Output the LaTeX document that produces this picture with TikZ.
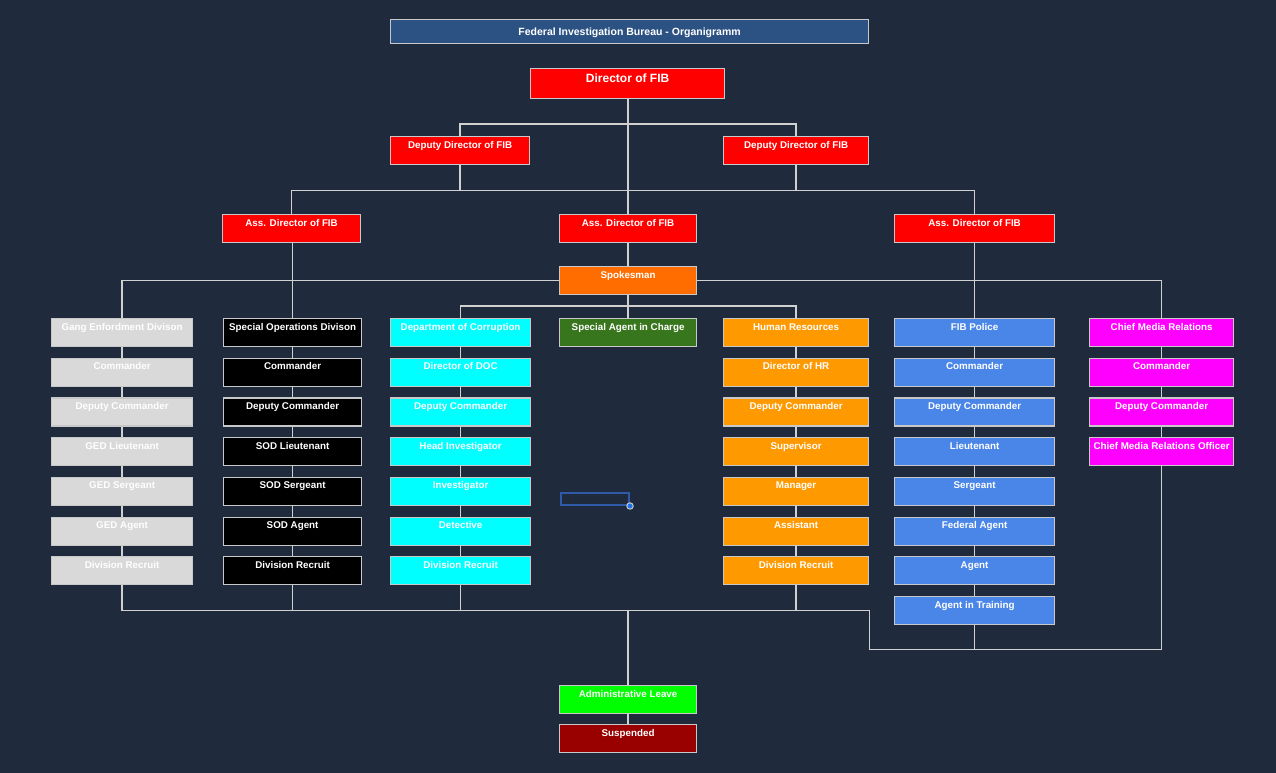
\documentclass[tikz,border=0pt]{standalone}
\usepackage{fontspec}
\setmainfont{Liberation Sans}
\usetikzlibrary{positioning}

\definecolor{bgnavy}{HTML}{1F2A3C}
\definecolor{titleblue}{HTML}{2C5283}
\definecolor{edgegrey}{HTML}{C8C8C8}
\definecolor{wiregrey}{HTML}{D0D0D0}
\definecolor{fibred}{HTML}{FF0000}
\definecolor{spkorange}{HTML}{FF6D01}
\definecolor{sacgreen}{HTML}{38761D}
\definecolor{hrorange}{HTML}{FF9900}
\definecolor{polblue}{HTML}{4A86E8}
\definecolor{cmrpink}{HTML}{FF00FF}
\definecolor{doccyan}{HTML}{00FFFF}
\definecolor{gedgrey}{HTML}{D9D9D9}
\definecolor{admgreen}{HTML}{00FF00}
\definecolor{susred}{HTML}{990000}
\definecolor{selblue}{HTML}{2F5AA8}
\definecolor{handleblue}{HTML}{1A73E8}

\tikzset{
  rank/.style={draw=edgegrey, line width=1.2pt, text=white, anchor=north west,
    font=\bfseries\fontsize{9.8}{11}\selectfont, inner xsep=1pt, inner ysep=0pt,
    minimum height=28pt, text height=11.5pt, text depth=16.5pt},
  wire/.style={draw=wiregrey, line width=1.3pt}
}

\begin{document}
\begin{tikzpicture}[x=1pt,y=-1pt]
\path[use as bounding box, fill=bgnavy] (0,0) rectangle (1276,773);

% top of the chart
\node[rank, fill=titleblue, minimum width=478pt, minimum height=24pt, text height=11.5pt, text depth=4.5pt, font=\bfseries\fontsize{10.5}{12}\selectfont] (title) at (390,19) {Federal Investigation Bureau - Organigramm};
\node[rank, fill=fibred, minimum width=194pt, minimum height=30pt, text height=14.4pt, text depth=15.6pt, font=\bfseries\fontsize{12}{14}\selectfont] (dir) at (530,68) {Director of FIB};
\node[rank, fill=fibred, minimum width=139pt] (dep1) at (390,136) {Deputy Director of FIB};
\node[rank, fill=fibred, minimum width=145pt] (dep2) at (723,136) {Deputy Director of FIB};
\node[rank, fill=fibred, minimum width=138pt] (ass1) at (222,214) {Ass. Director of FIB};
\node[rank, fill=fibred, minimum width=137pt] (ass2) at (559,214) {Ass. Director of FIB};
\node[rank, fill=fibred, minimum width=160pt] (ass3) at (894,214) {Ass. Director of FIB};
\node[rank, fill=spkorange, minimum width=137pt] (spk) at (559,266) {Spokesman};
\node[rank, fill=sacgreen, minimum width=137pt] (sac) at (559,318) {Special Agent in Charge};

% divisions
\foreach \t [count=\i] in {Gang Enfordment Divison, Commander, Deputy Commander, GED Lieutenant, GED Sergeant, GED Agent, Division Recruit}
  \node[rank, fill=gedgrey, minimum width=141pt] (ged\i) at (51,{318+39.7*(\i-1)}) {\t};
\foreach \t [count=\i] in {Special Operations Divison, Commander, Deputy Commander, SOD Lieutenant, SOD Sergeant, SOD Agent, Division Recruit}
  \node[rank, fill=black, minimum width=138pt] (sod\i) at (223,{318+39.7*(\i-1)}) {\t};
\foreach \t [count=\i] in {Department of Corruption, Director of DOC, Deputy Commander, Head Investigator, Investigator, Detective, Division Recruit}
  \node[rank, fill=doccyan, minimum width=140pt] (doc\i) at (390,{318+39.7*(\i-1)}) {\t};
\foreach \t [count=\i] in {Human Resources, Director of HR, Deputy Commander, Supervisor, Manager, Assistant, Division Recruit}
  \node[rank, fill=hrorange, minimum width=145pt] (hr\i) at (723,{318+39.7*(\i-1)}) {\t};
\foreach \t [count=\i] in {FIB Police, Commander, Deputy Commander, Lieutenant, Sergeant, Federal Agent, Agent, Agent in Training}
  \node[rank, fill=polblue, minimum width=160pt] (pol\i) at (894,{318+39.7*(\i-1)}) {\t};
\foreach \t [count=\i] in {Chief Media Relations, Commander, Deputy Commander, Chief Media Relations Officer}
  \node[rank, fill=cmrpink, minimum width=144pt] (cmr\i) at (1089,{318+39.7*(\i-1)}) {\t};

\node[rank, fill=admgreen, minimum width=137pt] (adm) at (559,685) {Administrative Leave};
\node[rank, fill=susred, minimum width=137pt] (sus) at (559,724) {Suspended};

% connectors
\draw[wire] (ass2.north |- dir.south) -- (ass2.north);
\draw[wire] (dep1.north) -- ++(0,-12) -| (dep2.north);
\draw[wire] (dep1.south) -- ++(0,25) coordinate (lvl2) -| (dep2.south);
\draw[wire] (lvl2) -| (ass1.north);
\draw[wire] (dep2.south) ++(0,25) -| (ass3.north);
\draw[wire] (ass2.south) -- (spk.north);
\draw[wire] (ged1.north) |- (spk.west);
\draw[wire] (spk.east) -| (cmr1.north);
\draw[wire] (sod1.north |- ass1.south) -- (sod1.north);
\draw[wire] (ass3.south) -- (pol1.north);
\draw[wire] (spk.south) -- (sac.north);
\draw[wire] (doc1.north) -- ++(0,-12) -| (hr1.north);
\foreach \c/\n in {ged/7, sod/7, doc/7, hr/7, pol/8, cmr/4}
  \foreach \i in {2,...,\n} {
    \pgfmathtruncatemacro\k{\i-1}
    \draw[wire] (\c\k.south) -- (\c\i.north);
  }
\draw[wire] (ged7.south) -- ++(0,25) coordinate (lvl5) -- (lvl5 -| hr7.east) -- ++(0,39) coordinate (lvl6) -| (cmr4.south);
\draw[wire] (pol8.south) -- (pol8.south |- lvl6);
\foreach \c in {sod, doc, hr}
  \draw[wire] (\c7.south) -- (\c7.south |- lvl5);
\draw[wire] (lvl5 -| adm.north) -- (adm.north);
\draw[wire] (adm.south) -- (sus.north);

% stray selection box
\draw[selblue, line width=1.5pt] (561,493) rectangle (629,505);
\draw[fill=handleblue, draw=edgegrey, line width=1pt] (630,506) circle (3.2pt);
\end{tikzpicture}
\end{document}
